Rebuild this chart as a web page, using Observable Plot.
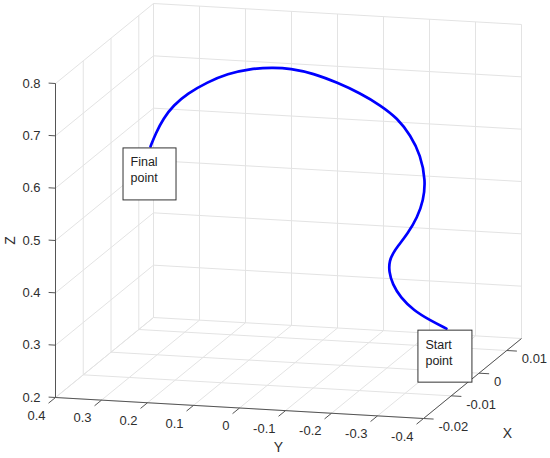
<!DOCTYPE html>
<html>
<head>
<meta charset="utf-8">
<script src="https://cdn.jsdelivr.net/npm/d3@7"></script>
<script src="https://cdn.jsdelivr.net/npm/@observablehq/plot@0.6"></script>
<style>
  html, body { margin: 0; padding: 0; background: #fff; }
  #chart svg { display: block; }
</style>
</head>
<body>
<div id="chart"></div>
<script>
// ---- data (3D trajectory) ----
const curveX = [0.004,0.004,0.004,0.004,0.002,0.002,0.002,0.002,0.002,0,0,0,0,0,0,0,0,0,-0.002,-0.002,-0.002,-0.002,-0.002,-0.002,-0.004,-0.004,-0.004,-0.004,-0.004,-0.004];
const curveY = [-0.305,-0.270,-0.234,-0.205,-0.200,-0.192,-0.193,-0.202,-0.211,-0.245,-0.266,-0.279,-0.284,-0.273,-0.251,-0.223,-0.186,-0.142,-0.104,-0.052,-0.002,0.037,0.085,0.135,0.166,0.210,0.240,0.262,0.279,0.290];
const curveZ = [0.263,0.277,0.294,0.318,0.351,0.375,0.396,0.412,0.424,0.459,0.491,0.524,0.562,0.610,0.647,0.678,0.701,0.722,0.749,0.764,0.771,0.771,0.766,0.754,0.745,0.721,0.697,0.671,0.641,0.616];

const xTicks = [-0.02, -0.01, 0, 0.01];
const yTicks = [0.4, 0.3, 0.2, 0.1, 0, -0.1, -0.2, -0.3, -0.4];
const zTicks = [0.2, 0.3, 0.4, 0.5, 0.6, 0.7, 0.8];
const xLim = [-0.02, 0.0153];
const yLim = [-0.4, 0.4];
const zLim = [0.2, 0.8];
const startLabel = ["Start", "point"];
const finalLabel = ["Final", "point"];

// ---- orthographic view (screen basis of the axes box) ----
const P0 = [55, 397], EU = [368, 21], EV = [98, -80], EW = [0, -314];
function proj(x, y, z) {
  const u = (yLim[1] - y) / (yLim[1] - yLim[0]);
  const v = (x - xLim[0]) / (xLim[1] - xLim[0]);
  const w = (z - zLim[0]) / (zLim[1] - zLim[0]);
  return [P0[0] + u * EU[0] + v * EV[0] + w * EW[0],
          P0[1] + u * EU[1] + v * EV[1] + w * EW[1]];
}
function seg(a, b) {
  const p = proj(...a), q = proj(...b);
  return {x1: p[0], y1: p[1], x2: q[0], y2: q[1]};
}
const [X0, X1] = xLim, [YA, YB] = [yLim[1], yLim[0]], [Z0, Z1] = zLim;

// grid on floor, back wall, left wall
const grid = [];
yTicks.forEach(y => grid.push(seg([X0, y, Z0], [X1, y, Z0])));
xTicks.forEach(x => grid.push(seg([x, YA, Z0], [x, YB, Z0])));
yTicks.forEach(y => grid.push(seg([X1, y, Z0], [X1, y, Z1])));
zTicks.forEach(z => grid.push(seg([X1, YA, z], [X1, YB, z])));
xTicks.forEach(x => grid.push(seg([x, YA, Z0], [x, YA, Z1])));
zTicks.forEach(z => grid.push(seg([X0, YA, z], [X1, YA, z])));

// axis lines and ticks
const axes = [
  seg([X0, YA, Z0], [X0, YA, Z1]),
  seg([X0, YA, Z0], [X0, YB, Z0]),
  seg([X0, YB, Z0], [X1, YB, Z0])
];
const ticks = [];
zTicks.forEach(z => ticks.push(seg([X0, YA, z], [X0, YA + 0.015, z])));
yTicks.forEach(y => ticks.push(seg([X0, y, Z0], [X0 - 0.0025, y, Z0])));
xTicks.forEach(x => ticks.push(seg([x, YB, Z0], [x, YB - 0.022, Z0])));

const fmt = v => String(+v.toFixed(3));
const zLab = zTicks.map(z => { const p = proj(X0, YA, z); return {sx: p[0], sy: p[1], t: fmt(z)}; });
const yLab = yTicks.map(y => { const p = proj(X0, y, Z0); return {sx: p[0], sy: p[1], t: fmt(y)}; });
const xLab = xTicks.map(x => { const p = proj(x, YB, Z0); return {sx: p[0], sy: p[1], t: fmt(x)}; });

const zTitle = proj(X0, YA, (Z0 + Z1) / 2);
const yTitle = proj(X0, 0, Z0);
const xTitle = proj((X0 + X1) / 2, YB, Z0);

const pts = curveX.map((x, i) => { const p = proj(x, curveY[i], curveZ[i]); return {sx: p[0], sy: p[1]}; });
const pS = pts[0], pF = pts[pts.length - 1];
const boxes = [
  {x1: pF.sx - 27, x2: pF.sx + 26, y1: pF.sy + 2, y2: pF.sy + 54},
  {x1: pS.sx - 28, x2: pS.sx + 26, y1: pS.sy + 2, y2: pS.sy + 54}
];
const notes = [
  {sx: pF.sx - 20, sy: pF.sy + 16, t: finalLabel[0]},
  {sx: pF.sx - 20, sy: pF.sy + 32, t: finalLabel[1]},
  {sx: pS.sx - 21, sy: pS.sy + 16, t: startLabel[0]},
  {sx: pS.sx - 21, sy: pS.sy + 32, t: startLabel[1]}
];

const txt = "#2e2e2e";
const chart = Plot.plot({
  width: 550, height: 458,
  margin: 0,
  x: {type: "linear", domain: [0, 550], range: [0, 550], axis: null},
  y: {type: "linear", domain: [0, 458], range: [0, 458], axis: null},
  style: {fontFamily: "'Liberation Sans', Arial, Helvetica, sans-serif", background: "#fff"},
  marks: [
    Plot.link(grid, {x1: "x1", y1: "y1", x2: "x2", y2: "y2", stroke: "#e3e3e3", strokeWidth: 1}),
    Plot.link(axes, {x1: "x1", y1: "y1", x2: "x2", y2: "y2", stroke: "#555", strokeWidth: 1}),
    Plot.link(ticks, {x1: "x1", y1: "y1", x2: "x2", y2: "y2", stroke: "#555", strokeWidth: 1}),
    Plot.text(zLab, {x: "sx", y: "sy", text: "t", textAnchor: "end", dx: -15, fontSize: 13, fill: txt}),
    Plot.text(yLab, {x: "sx", y: "sy", text: "t", textAnchor: "end", dx: -10, dy: 18, fontSize: 13, fill: txt}),
    Plot.text(xLab, {x: "sx", y: "sy", text: "t", textAnchor: "start", dx: 15, dy: 8.5, fontSize: 13, fill: txt}),
    Plot.text(["Z"], {x: zTitle[0], y: zTitle[1], dx: -45, rotate: -90, fontSize: 14, fill: txt}),
    Plot.text(["Y"], {x: yTitle[0], y: yTitle[1], dx: 39, dy: 40, fontSize: 14, fill: txt}),
    Plot.text(["X"], {x: xTitle[0], y: xTitle[1], dx: 35, dy: 55, fontSize: 14, fill: txt}),
    Plot.line(pts, {x: "sx", y: "sy", stroke: "#0000ff", strokeWidth: 2.7, curve: "basis"}),
    Plot.rect(boxes, {x1: "x1", x2: "x2", y1: "y1", y2: "y2", fill: "#fff", stroke: "#333", strokeWidth: 1}),
    Plot.text(notes, {x: "sx", y: "sy", text: "t", textAnchor: "start", fontSize: 12.5, fill: "#222"})
  ]
});
document.getElementById("chart").appendChild(chart);
</script>
</body>
</html>
